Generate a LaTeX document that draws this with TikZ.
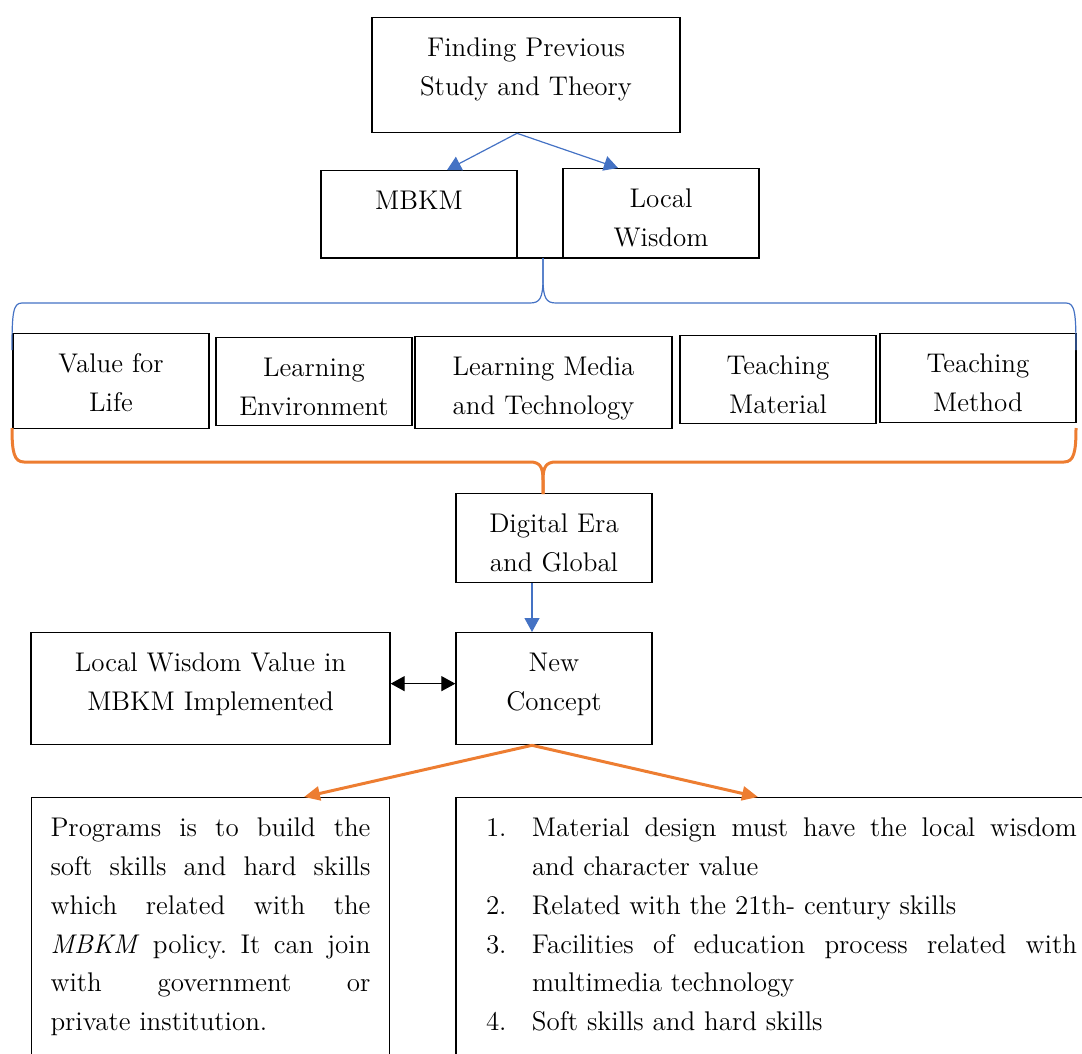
\documentclass[tikz,border=0pt]{standalone}
\usepackage{fontspec}
\usetikzlibrary{arrows.meta}

\definecolor{wordblue}{HTML}{4472C4}
\definecolor{wordorange}{HTML}{ED7D31}

\newcommand{\featitem}[2]{\par\noindent\hangindent=23pt\hangafter=1\makebox[23pt][l]{#1}#2\par}

\begin{document}
\begin{tikzpicture}[x=0.5pt,y=-0.5pt,
    every node/.style={font=\fontsize{13.5}{19.4}\selectfont},
    box/.style={draw,line width=0.65pt,inner sep=0pt,anchor=north,align=center,
      text width=98pt,text height=19.5pt,text depth=25pt},
    note/.style={draw,line width=0.65pt,inner ysep=0pt,anchor=north,
      text height=19.5pt,text depth=140pt},
    bluearrow/.style={draw=wordblue,line width=0.6pt,-{Triangle[length=7pt,width=7.5pt]}},
    orangearrow/.style={draw=wordorange,line width=1.5pt,-{Triangle[length=8pt,width=7pt]}},
    bothways/.style={draw,line width=0.6pt,{Triangle[length=7pt,width=7.5pt]}-{Triangle[length=7pt,width=7.5pt]}},
    bluebrace/.style={draw=wordblue,line width=0.6pt},
    orangebrace/.style={draw=wordorange,line width=1.5pt}]

      \useasboundingbox (0,0) rectangle (1082,1054);
      \clip (0,0) rectangle (1082,1054);

      % top part
      \node[box,text width=154pt,text depth=38pt] (find) at (526,17) {Finding Previous\\Study and Theory};
      \node[box,text depth=24pt] (mbkm)   at (419,170) {MBKM};
      \node[box,text depth=25pt] (wisdom) at (661,168) {Local\\Wisdom};
      \draw[line width=1pt] (mbkm.south west) -- (wisdom.south east);

      % aspects row
      \node[box,text depth=28pt]   (value)    at (111,333)   {Value for\\Life};
      \node[box,text depth=24.5pt] (environ)  at (314,337)   {Learning\\Environment};
      \node[box,text width=128.5pt,text depth=26.5pt] (media) at (543.5,336) {Learning Media\\and Technology};
      \node[box,text depth=24.5pt] (material) at (778,335)   {Teaching\\Material};
      \node[box,text depth=25pt]   (method)   at (978,333)   {Teaching\\Method};

      % lower part
      \node[box,text depth=25pt]   (digital) at (554,493) {Digital Era\\and Global};
      \node[box,text depth=36.5pt] (concept) at (554,632) {New\\Concept};
      \node[box,text width=179.5pt,text depth=36.5pt] (implemented) at (210.5,632) {Local Wisdom Value in\\MBKM Implemented};

      \node[note,inner xsep=9.5pt] (programs) at (210.5,797) {%
        \begin{minipage}[t]{160pt}\frenchspacing
        Programs is to build the\linebreak
        soft skills and hard skills\linebreak
        which related with the\linebreak
        \emph{MBKM} policy. It can join\linebreak
        with government or\linebreak
        private institution.
        \end{minipage}};
      \node[note,inner xsep=15pt] (features) at (781.5,797) {%
        \begin{minipage}[t]{295.5pt}\frenchspacing
        \featitem{1.}{Material design must have the local wisdom\linebreak and character value}
        \featitem{2.}{Related with the 21th- century skills}
        \featitem{3.}{Facilities of education process related with\linebreak multimedia technology}
        \featitem{4.}{Soft skills and hard skills}
        \end{minipage}};

      % braces
      \draw[bluebrace] (12,350) .. controls (12,313) and (13,303) .. (22,303) -- (530,303)
        .. controls (540,303) and (543,298) .. (543,278) -- (543,258);
      \draw[bluebrace] (543,258) -- (543,278) .. controls (543,298) and (546,303) .. (556,303)
        -- (1066,303) .. controls (1075,303) and (1076,313) .. (1076,350);
      \draw[orangebrace] (12,428) .. controls (12,452) and (14,462) .. (24,462) -- (530,462)
        .. controls (540,462) and (543,467) .. (543,480) -- (543,494);
      \draw[orangebrace] (543,494) -- (543,480) .. controls (543,467) and (546,462) .. (556,462)
        -- (1064,462) .. controls (1074,462) and (1076,452) .. (1076,428);

      % connectors
      \begin{scope}[every edge/.style={bluearrow}]
        \path ([xshift=-4.5pt]find.south) edge ([xshift=14pt]mbkm.north);
        \path ([xshift=-4.5pt]find.south) edge ([xshift=-21.5pt]wisdom.north);
        \path ([xshift=-11pt]digital.south) edge ([xshift=-11pt]concept.north);
      \end{scope}

      \path ([yshift=2.5pt]implemented.east) edge[bothways] ([yshift=2.5pt]concept.west);

      \begin{scope}[every edge/.style={orangearrow}]
        \path ([xshift=-11pt]concept.south) edge ([xshift=46.75pt]programs.north);
        \path ([xshift=-11pt]concept.south) edge ([xshift=-11.75pt]features.north);
      \end{scope}

    \end{tikzpicture}
\end{document}
